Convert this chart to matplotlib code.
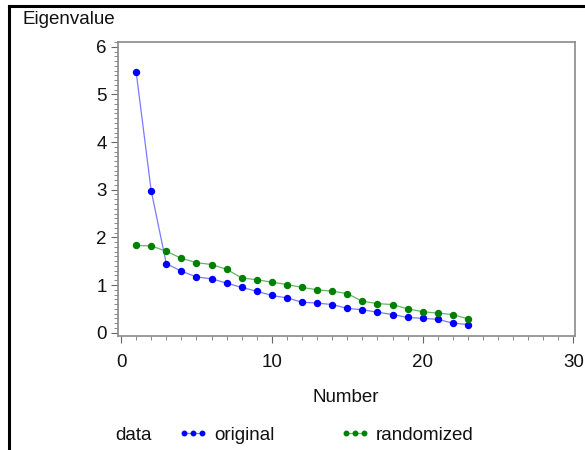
import matplotlib
matplotlib.use("Agg")
import matplotlib.pyplot as plt
from matplotlib.lines import Line2D
from matplotlib.ticker import MultipleLocator

plt.rcParams['font.family'] = ['Liberation Sans', 'DejaVu Sans']

number = list(range(1, 24))
original = [5.48, 2.98, 1.45, 1.29, 1.17, 1.13, 1.04, 0.95, 0.87, 0.78, 0.73,
            0.64, 0.62, 0.59, 0.51, 0.48, 0.43, 0.38, 0.32, 0.30, 0.28, 0.20, 0.17]
randomized = [1.83, 1.82, 1.71, 1.56, 1.47, 1.43, 1.33, 1.15, 1.11, 1.06, 1.01,
              0.95, 0.90, 0.87, 0.82, 0.66, 0.61, 0.59, 0.50, 0.44, 0.41, 0.38, 0.29]
xticks = [0, 10, 20, 30]
yticks = [0, 1, 2, 3, 4, 5, 6]

FS = 13.5
fig = plt.figure(figsize=(5.85, 4.5), dpi=100)
ax = fig.add_axes([118/585, 1-336/450, (575-118)/585, (336-42)/450])

l1, = ax.plot(number, original, color='#7a7aff', lw=0.9, marker='o', ms=4.3,
              mfc='#0000ff', mec='#0000ff', label='original')
l2, = ax.plot(number, randomized, color='#66b566', lw=0.9, marker='o', ms=4.3,
              mfc='#008000', mec='#008000', label='randomized')

ax.set_xlim(-0.2, 30.1)
ax.set_ylim(-0.07, 6.1)
ax.set_xticks(xticks)
ax.set_yticks(yticks)
ax.xaxis.set_minor_locator(MultipleLocator(1))
ax.yaxis.set_minor_locator(MultipleLocator(0.1))
ax.tick_params(which='major', length=5, width=0.8, color='#666666', labelsize=FS,
               labelcolor='#111111', pad=3)
ax.tick_params(axis='x', which='major', pad=8)
ax.tick_params(which='minor', length=3, width=0.6, color='#777777')
for s in ax.spines.values():
    s.set_color('#8a8a8a')
    s.set_linewidth(1.2)

fig.text(22/585, 1-20/450, 'Eigenvalue', fontsize=FS, ha='left', va='center', color='#111111')
fig.text(346/585, 1-398/450, 'Number', fontsize=FS, ha='center', va='center', color='#111111')
fig.text(115/585, 1-435/450, 'data', fontsize=FS, ha='left', va='center', color='#111111')

leg = fig.legend(handles=[l1, l2], labels=['original', 'randomized'], ncol=2,
                 loc='center left', bbox_to_anchor=(178/585, 1-435/450),
                 frameon=False, numpoints=3, handlelength=1.6, handletextpad=0.32,
                 columnspacing=3.5, markerscale=0.75, fontsize=FS, borderpad=0,
                 borderaxespad=0)
for t in leg.get_texts():
    t.set_color('#111111')

# outer frame lines (top and left)
fig.add_artist(Line2D([8.5/585, 8.5/585], [0, 1-6/450], transform=fig.transFigure,
                      color='black', lw=2.2))
fig.add_artist(Line2D([8.5/585, 1], [1-6/450, 1-6/450], transform=fig.transFigure,
                      color='black', lw=2.2))

fig.savefig('out.png', dpi=100)
